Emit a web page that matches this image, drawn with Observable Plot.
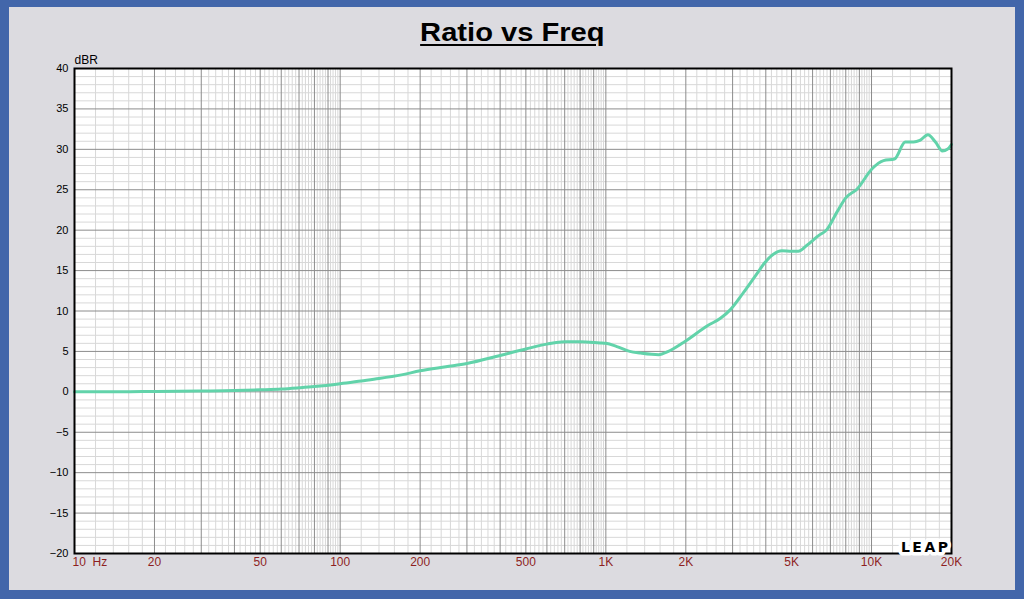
<!DOCTYPE html>
<html><head><meta charset="utf-8">
<script src="https://cdn.jsdelivr.net/npm/d3@7"></script>
<script src="https://cdn.jsdelivr.net/npm/@observablehq/plot@0.6"></script>
<style>
html,body{margin:0;padding:0;}
body{width:1024px;height:599px;overflow:hidden;background:#dcdbe0;position:relative;font-family:"Liberation Sans",Arial,sans-serif;}
#frame{position:absolute;left:0;top:0;width:1024px;height:599px;box-sizing:border-box;border:9px solid #4266aa;border-top-width:7px;pointer-events:none;z-index:3;}
#title{position:absolute;left:0;top:17px;width:1024px;text-align:center;z-index:2;}
#title span{display:inline-block;font-size:26px;line-height:30px;font-weight:bold;text-decoration:underline;text-decoration-thickness:2px;text-underline-offset:3px;color:#000;transform:scaleX(1.12);}
#chart{position:absolute;left:0;top:0;z-index:1;}
</style></head>
<body>
<div id="title"><span>Ratio vs Freq</span></div>
<div id="chart"></div>
<div id="frame"></div>
<script>
const freqHz = [10, 15, 20, 30, 40, 50, 60, 70, 80, 100, 120, 140, 170, 200, 250, 300, 400, 500, 600, 700, 800, 950, 1000, 1100, 1230, 1350, 1580, 1720, 1960, 2420, 2700, 2950, 3300, 3700, 3970, 4260, 4600, 5000, 5300, 5700, 6300, 6800, 7400, 8000, 8830, 10050, 11100, 12200, 13400, 14400, 15200, 16300, 17400, 18500, 19300, 20000];
const ratioDb = [0.0, 0.0, 0.05, 0.1, 0.15, 0.25, 0.35, 0.5, 0.65, 1.0, 1.35, 1.65, 2.1, 2.6, 3.1, 3.5, 4.5, 5.3, 5.9, 6.2, 6.2, 6.05, 6.0, 5.6, 5.0, 4.8, 4.6, 5.0, 6.1, 8.2, 9.1, 10.2, 12.3, 14.6, 16.0, 17.0, 17.45, 17.4, 17.4, 18.1, 19.3, 20.1, 22.2, 24.0, 25.1, 27.6, 28.6, 28.8, 30.9, 30.9, 31.1, 31.8, 30.9, 29.8, 30.0, 30.6];
const yTicks = [-20, -15, -10, -5, 0, 5, 10, 15, 20, 25, 30, 35, 40];
const xTickValues = [10, 20, 50, 100, 200, 500, 1000, 2000, 5000, 10000, 20000];
const xTickLabels = ["10\u00a0\u00a0Hz", "20", "50", "100", "200", "500", "1K", "2K", "5K", "10K", "20K"];
const yLabel = "dBR";
const logoText = "LEAP";

const data = freqHz.map((f, i) => ({f, db: ratioDb[i]}));
const xLabelRows = xTickValues.map((v, i) => ({v, label: xTickLabels[i]}));

// grid lines (log decades for x, 1 dB / 5 dB for y)
const majorX = [], minorX = [];
for (const d of [10, 100, 1000, 10000]) {
  for (let k = 10; k < 100; k += 2) {
    const v = d * k / 10;
    if (v > 20000) continue;
    if (k % 10 === 0) majorX.push(v); else minorX.push(v);
  }
  for (let m = 1; m < 10; m++) { const v = d * m; if (v <= 20000 && !majorX.includes(v)) majorX.push(v); }
}
const majorY = [], minorY = [];
for (let v = -20; v <= 40; v++) { if (v % 5 === 0) majorY.push(v); else minorY.push(v); }

const red = "#8e1f1f";

const chart = Plot.plot({
  width: 1024,
  height: 599,
  marginLeft: 74,
  marginRight: 73,
  marginTop: 68,
  marginBottom: 46,
  style: {background: "transparent", fontFamily: "'Liberation Sans', Arial, sans-serif", fontSize: "11px", overflow: "visible"},
  x: {type: "log", domain: [10, 20000], axis: null},
  y: {domain: [-20, 40], axis: null},
  marks: [
    Plot.frame({fill: "white", stroke: "none"}),
    Plot.ruleX(minorX, {stroke: "#d8d8d8", strokeWidth: 1}),
    Plot.ruleY(minorY, {stroke: "#d8d8d8", strokeWidth: 1}),
    Plot.ruleX(majorX, {stroke: "#8c8c8c", strokeWidth: 1}),
    Plot.ruleY(majorY, {stroke: "#8c8c8c", strokeWidth: 1}),
    Plot.line(data, {x: "f", y: "db", stroke: "#62d3aa", strokeWidth: 3, curve: "monotone-x"}),
    Plot.frame({stroke: "black", strokeWidth: 2}),
    Plot.text([logoText], {frameAnchor: "bottom-right", textAnchor: "end", lineAnchor: "bottom", dx: -1, dy: -2,
      fontSize: 14, fontWeight: 900, fontFamily: "'DejaVu Sans', sans-serif", fill: "black",
      stroke: "white", strokeWidth: 7, paintOrder: "stroke"}),
    Plot.axisY({ticks: yTicks, tickSize: 0, tickPadding: 6, label: null, fill: "black", fontSize: 11}),
    Plot.text([yLabel], {frameAnchor: "top-left", textAnchor: "start", lineAnchor: "bottom", dy: -5, fontSize: 12, fill: "black"}),
    Plot.text(xLabelRows.slice(1), {x: "v", text: "label", frameAnchor: "bottom", textAnchor: "middle",
      lineAnchor: "top", dy: 4, fill: red, fontSize: 12}),
    Plot.text(xLabelRows.slice(0, 1), {x: "v", text: "label", frameAnchor: "bottom", textAnchor: "start",
      lineAnchor: "top", dy: 4, dx: -2, fill: red, fontSize: 12})
  ]
});
for (const t of chart.querySelectorAll("text")) {
  if (t.textContent === logoText) t.setAttribute("letter-spacing", "2.5");
}
document.getElementById("chart").appendChild(chart);
</script>
</body></html>
